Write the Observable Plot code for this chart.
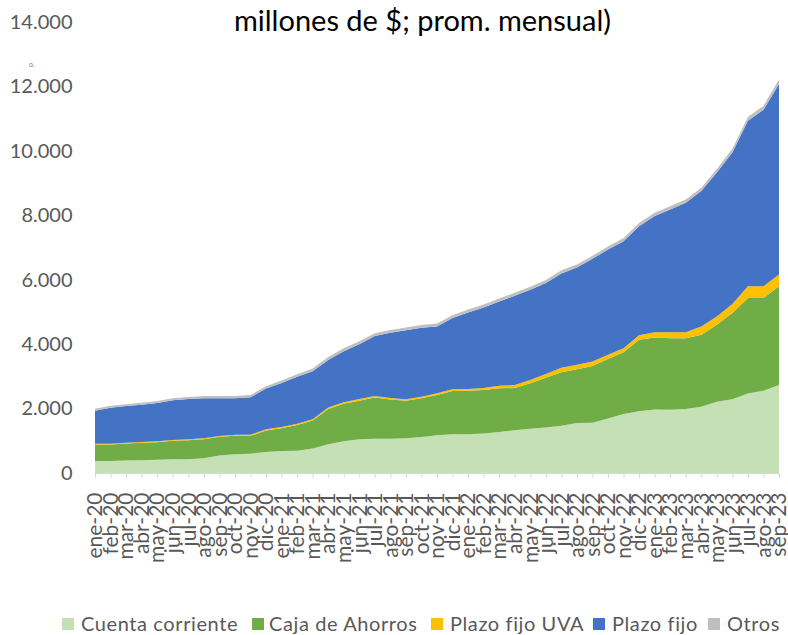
<!DOCTYPE html>
<html>
<head>
<meta charset="utf-8">
<script src="https://cdn.jsdelivr.net/npm/d3@7"></script>
<script src="https://cdn.jsdelivr.net/npm/@observablehq/plot@0.6"></script>
<style>
  body { margin: 0; background: #fff; }
  #wrap { position: relative; width: 788px; height: 635px; overflow: hidden; font-family: Lato, "Open Sans", sans-serif; }
  #title { position: absolute; left: 0; width: 845px; top: 0px; text-align: center; font-size: 29px; line-height: 40px; color: #000; white-space: nowrap; }
  #dot { position: absolute; left: 29px; top: 60px; font-size: 7px; color: #808080; }
  #chart { position: absolute; left: 0; top: 0; }
  .leg { position: absolute; top: 611px; font-size: 20px; line-height: 24px; color: #595959; white-space: nowrap; letter-spacing: 0.6px; }
  .sw { position: absolute; width: 12px; height: 12px; top: 618px; }
</style>
</head>
<body>
<div id="wrap">
  <div id="chart"></div>
  <div id="title">millones de $; prom. mensual)</div>
  <div id="dot">o.</div>
  <div id="legend"></div>
</div>
<script>
const months = ["ene-20","feb-20","mar-20","abr-20","may-20","jun-20","jul-20","ago-20","sep-20","oct-20","nov-20","dic-20",
  "ene-21","feb-21","mar-21","abr-21","may-21","jun-21","jul-21","ago-21","sep-21","oct-21","nov-21","dic-21",
  "ene-22","feb-22","mar-22","abr-22","may-22","jun-22","jul-22","ago-22","sep-22","oct-22","nov-22","dic-22",
  "ene-23","feb-23","mar-23","abr-23","may-23","jun-23","jul-23","ago-23","sep-23"];

const seriesNames = ["Cuenta corriente", "Caja de Ahorros", "Plazo fijo UVA", "Plazo fijo", "Otros"];
const seriesColors = ["#C5E0B4", "#70AD47", "#FFC000", "#4472C4", "#BFBFBF"];

const cuentaCorriente = [370,370,385,395,415,425,430,460,540,580,600,655,
  680,690,760,895,985,1050,1060,1060,1080,1120,1175,1205,
  1205,1225,1270,1330,1370,1410,1470,1555,1560,1690,1830,1920,
  1975,1965,1985,2060,2210,2290,2470,2555,2730];
const cajaAhorros = [514,514,530,541,541,573,589,590,582,573,553,665,
  710,800,870,1095,1165,1195,1285,1220,1165,1197,1245,1340,
  1349,1351,1359,1308,1415,1549,1660,1666,1764,1852,1920,2214,
  2230,2221,2201,2229,2391,2675,2962,2877,3064];
const plazoFijoUVA = [26,26,27,27,29,30,30,30,30,32,35,40,
  35,35,35,45,50,50,45,50,45,51,53,53,
  54,62,81,94,103,116,140,140,135,125,125,145,
  168,187,187,259,259,281,362,362,365];
const plazoFijo = [1022,1115,1136,1155,1186,1227,1247,1237,1165,1132,1161,1260,
  1370,1460,1495,1475,1580,1705,1860,2020,2140,2139,2075,2211,
  2376,2502,2617,2772,2803,2825,2925,3020,3189,3271,3321,3383,
  3602,3810,4019,4205,4466,4703,5140,5482,5918];
const otros = [60,60,60,60,65,65,65,70,70,70,70,75,
  80,80,85,90,90,90,90,90,90,90,90,90,
  90,90,90,90,90,95,95,95,95,95,100,100,
  100,100,100,105,110,115,120,125,135];

const yTicks = [0,2000,4000,6000,8000,10000,12000,14000];

const seriesValues = [cuentaCorriente, cajaAhorros, plazoFijoUVA, plazoFijo, otros];
const data = [];
seriesNames.forEach((name, s) => {
  months.forEach((m, i) => data.push({month: m, series: name, value: seriesValues[s][i]}));
});

const fmt = d => d3.format(",")(d).replace(/,/g, ".");

const chart = Plot.plot({
  width: 788,
  height: 600,
  marginTop: 22,
  marginBottom: 127,
  marginLeft: 95,
  marginRight: 9,
  style: {fontFamily: "Lato, 'Open Sans', sans-serif", background: "transparent"},
  x: {type: "point", domain: months, padding: 0, round: false},
  y: {domain: [0, 14000]},
  color: {domain: seriesNames, range: seriesColors},
  marks: [
    Plot.areaY(data, {x: "month", y: "value", fill: "series", order: seriesNames, curve: "linear"}),
    Plot.ruleY([0], {stroke: "#d9d9d9", strokeWidth: 1}),
    Plot.axisY({ticks: yTicks, tickFormat: fmt, tickSize: 0, tickPadding: 23, fontSize: 20, fill: "#595959", label: null}),
    Plot.axisX({tickRotate: -90, tickSize: 5, stroke: "#d9d9d9", fill: "#595959", fontSize: 21, tickPadding: 14, label: null})
  ]
});
document.getElementById("chart").appendChild(chart);

const legendX = [[62, 81], [252, 269], [431, 450], [593, 612], [708, 727]];
const legend = document.getElementById("legend");
seriesNames.forEach((name, i) => {
  const sw = document.createElement("div");
  sw.className = "sw";
  sw.style.left = legendX[i][0] + "px";
  sw.style.background = seriesColors[i];
  legend.appendChild(sw);
  const t = document.createElement("div");
  t.className = "leg";
  t.style.left = legendX[i][1] + "px";
  t.textContent = name;
  legend.appendChild(t);
});
</script>
</body>
</html>
